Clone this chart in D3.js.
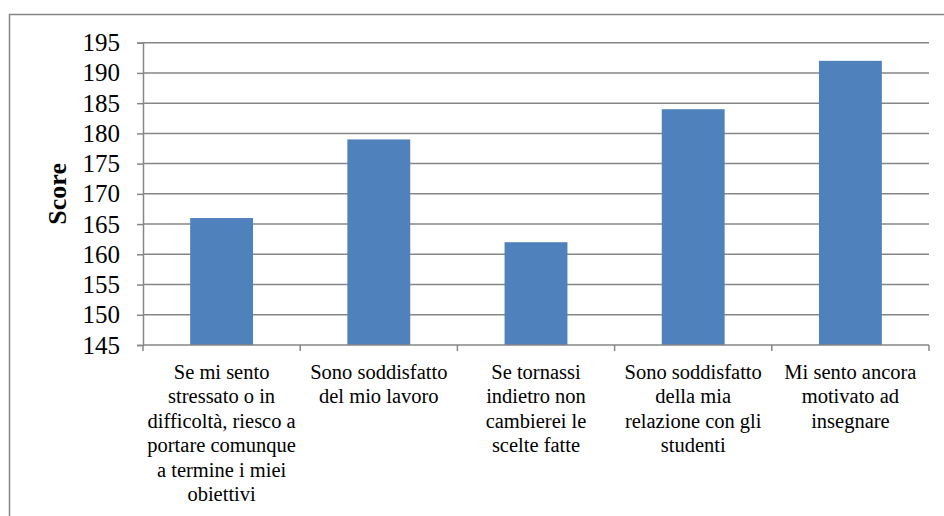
<!DOCTYPE html>
<html>
<head>
<meta charset="utf-8">
<script src="https://cdn.jsdelivr.net/npm/d3@7/dist/d3.min.js"></script>
<style>
  html, body { margin: 0; padding: 0; background: #fff; }
  svg { display: block; }
</style>
</head>
<body>
<svg id="chart" width="944" height="516"></svg>
<script>
// Survey items (multi-line labels split on "\n") and their total scores
const categories = [
  "Se mi sento\nstressato o in\ndifficoltà, riesco a\nportare comunque\na termine i miei\nobiettivi",
  "Sono soddisfatto\ndel mio lavoro",
  "Se tornassi\nindietro non\ncambierei le\nscelte fatte",
  "Sono soddisfatto\ndella mia\nrelazione con gli\nstudenti",
  "Mi sento ancora\nmotivato ad\ninsegnare"
];
const scores = [166, 179, 162, 184, 192];
const yTicks = [145, 150, 155, 160, 165, 170, 175, 180, 185, 190, 195];
const yTitle = "Score";

const FONT = "'Liberation Serif', 'Times New Roman', serif";
const svg = d3.select("#chart");
const gridColor = "#868686";
const barColor = "#4F81BD";

const plot = { left: 143, right: 929, top: 42.7, bottom: 345 };

// Outer frame (runs off the right and bottom edges)
svg.append("rect")
  .attr("x", 9.5).attr("y", 14.5)
  .attr("width", 960).attr("height", 560)
  .attr("fill", "none")
  .attr("stroke", gridColor)
  .attr("stroke-width", 1.5);

const x = d3.scaleBand()
  .domain(d3.range(categories.length))
  .range([plot.left, plot.right])
  .paddingInner(0.6)
  .paddingOuter(0.3);

const y = d3.scaleLinear()
  .domain([145, 195])
  .range([plot.bottom, plot.top]);

// Horizontal gridlines
svg.append("g")
  .selectAll("line")
  .data(yTicks.filter(t => t !== 145))
  .join("line")
  .attr("x1", plot.left).attr("x2", plot.right)
  .attr("y1", d => y(d)).attr("y2", d => y(d))
  .attr("stroke", gridColor)
  .attr("stroke-width", 1.5);

// Bars
svg.append("g")
  .selectAll("rect")
  .data(scores)
  .join("rect")
  .attr("x", (d, i) => x(i))
  .attr("width", x.bandwidth())
  .attr("y", d => y(d))
  .attr("height", d => y(145) - y(d))
  .attr("fill", barColor);

// Y axis
const yAxis = svg.append("g")
  .attr("transform", `translate(${plot.left},0)`)
  .call(d3.axisLeft(y).tickValues(yTicks).tickSize(6).tickPadding(17).tickFormat(d3.format("d")));
yAxis.attr("font-family", null).attr("font-size", null);
yAxis.selectAll("path, line").attr("stroke", gridColor).attr("stroke-width", 1.5);
yAxis.selectAll("text")
  .style("font-family", FONT)
  .style("font-size", "25px")
  .attr("fill", "#000");

// X axis: ticks at category boundaries
const step = x.step();
const boundaries = d3.range(categories.length + 1).map(i => plot.left + i * step);
const xAxis = svg.append("g");
xAxis.append("line")
  .attr("x1", plot.left).attr("x2", plot.right)
  .attr("y1", plot.bottom).attr("y2", plot.bottom)
  .attr("stroke", gridColor).attr("stroke-width", 1.5);
xAxis.selectAll("line.tick")
  .data(boundaries)
  .join("line")
  .attr("class", "tick")
  .attr("x1", d => d).attr("x2", d => d)
  .attr("y1", plot.bottom).attr("y2", plot.bottom + 6)
  .attr("stroke", gridColor).attr("stroke-width", 1.5);

// Category labels
const lineH = 24.4;
svg.append("g")
  .selectAll("text")
  .data(categories)
  .join("text")
  .attr("text-anchor", "middle")
  .style("font-family", FONT)
  .style("font-size", "20.5px")
  .attr("fill", "#000")
  .attr("x", (d, i) => x(i) + x.bandwidth() / 2)
  .attr("y", plot.bottom + 34)
  .each(function(d) {
    const t = d3.select(this);
    d.split("\n").forEach((line, k) => {
      t.append("tspan")
        .attr("x", t.attr("x"))
        .attr("dy", k === 0 ? 0 : lineH)
        .text(line);
    });
  });

// Y axis title
svg.append("text")
  .attr("transform", `translate(66, ${(plot.top + plot.bottom) / 2}) rotate(-90)`)
  .attr("text-anchor", "middle")
  .style("font-family", FONT)
  .style("font-size", "26px")
  .style("font-weight", "bold")
  .attr("fill", "#000")
  .text(yTitle);
</script>
</body>
</html>
